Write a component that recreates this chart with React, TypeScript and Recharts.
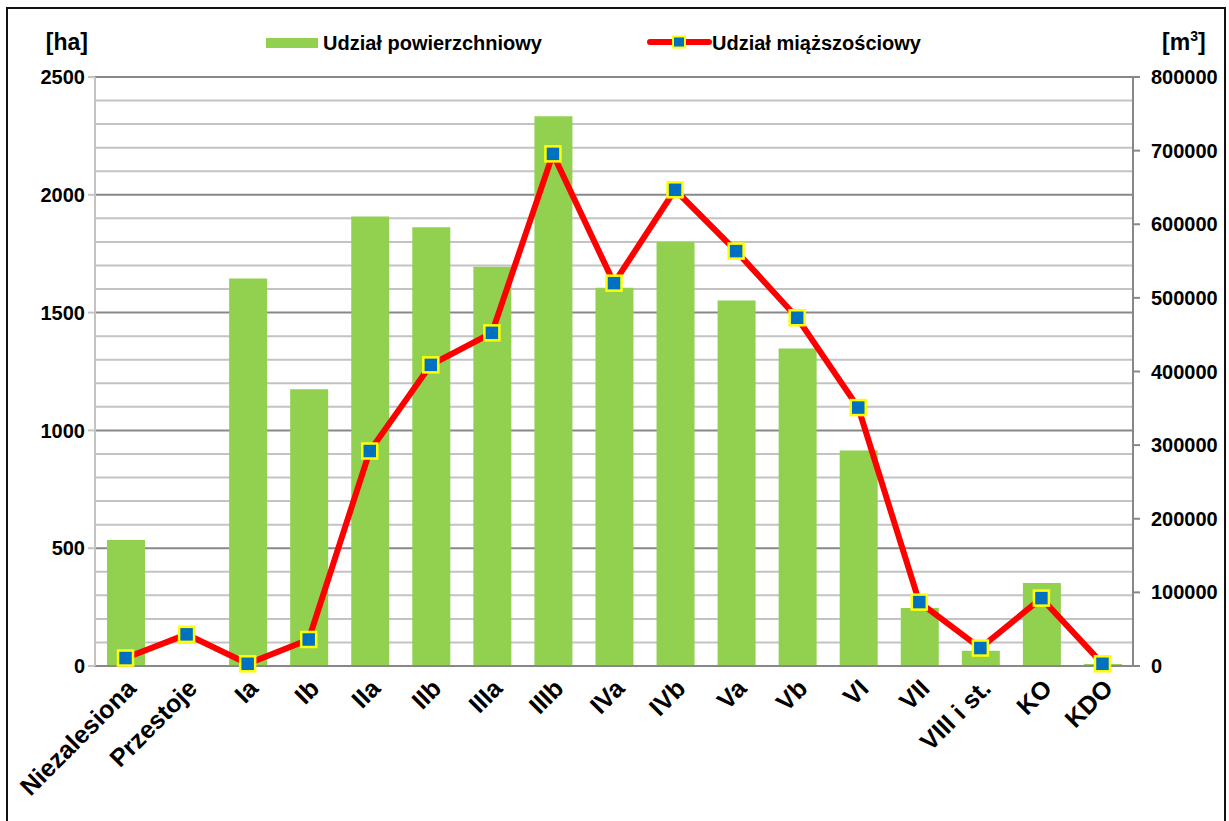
import React from "react";
import { ComposedChart, Bar, Line, XAxis, YAxis, CartesianGrid } from "recharts";

const categories = ["Niezalesiona", "Przestoje", "Ia", "Ib", "IIa", "IIb", "IIIa", "IIIb", "IVa", "IVb", "Va", "Vb", "VI", "VII", "VIII i st.", "KO", "KDO"];
const areaHa = [535, 0, 1645, 1175, 1908, 1862, 1695, 2333, 1605, 1800, 1551, 1348, 915, 246, 65, 352, 8];
const volumeM3 = [10800, 43000, 3000, 36000, 292000, 409000, 452500, 695600, 520000, 646800, 563500, 473000, 351000, 86800, 24400, 92200, 3000];
const leftTicks = [0, 500, 1000, 1500, 2000, 2500];
const rightTicks = [0, 100000, 200000, 300000, 400000, 500000, 600000, 700000, 800000];
const minorGrid = [100, 200, 300, 400, 600, 700, 800, 900, 1100, 1200, 1300, 1400, 1600, 1700, 1800, 1900, 2100, 2200, 2300, 2400];
const majorGrid = [500, 1000, 1500, 2000, 2500];

const data = categories.map((name, i) => ({ name, area: areaHa[i], volume: volumeM3[i] }));

const FONT = "'Liberation Sans', Arial, sans-serif";

const XTick = (props: any) => {
  const { x, y, payload } = props;
  return (
    <g transform={`translate(${x + 12},${y + 24})`}>
      <text transform="rotate(-45)" textAnchor="end" fontSize={25} fontWeight={700} fill="#000" fontFamily={FONT}>
        {payload.value}
      </text>
    </g>
  );
};

const SquareDot = (props: any) => {
  const { cx, cy, index } = props;
  if (cx == null || cy == null) return null;
  return <rect key={`d${index}`} x={cx - 7.5} y={cy - 7.5} width={15} height={15} fill="#0070c0" stroke="#ffff00" strokeWidth={2.5} />;
};

export default function App() {
  return (
    <div style={{ position: "relative", width: 1229, height: 821, overflow: "hidden", background: "#fff" }}>
      <style>{`body{margin:0;overflow:hidden;}`}</style>
      <ComposedChart width={1229} height={821} data={data} margin={{ top: 77, right: 0, bottom: 0, left: 0 }} barSize={38}>
        <CartesianGrid yAxisId="left" vertical={false} horizontalValues={minorGrid} stroke="#c3c3c3" strokeWidth={2} />
        <CartesianGrid yAxisId="left" vertical={false} horizontalValues={majorGrid} stroke="#888888" strokeWidth={2} />
        <XAxis dataKey="name" interval={0} height={155} tickLine={false} tickSize={0} tickMargin={0} axisLine={{ stroke: "#888888", strokeWidth: 2 }} tick={<XTick />} />
        <YAxis yAxisId="left" orientation="left" width={95} domain={[0, 2500]} ticks={leftTicks} interval={0}
          axisLine={{ stroke: "#c3c3c3", strokeWidth: 2 }} tickLine={{ stroke: "#c3c3c3", strokeWidth: 2 }} tickSize={7} tickMargin={3}
          tick={{ fontSize: 20, fontWeight: 700, fill: "#000", fontFamily: FONT }} />
        <YAxis yAxisId="right" orientation="right" width={96} domain={[0, 800000]} ticks={rightTicks} interval={0}
          axisLine={{ stroke: "#888888", strokeWidth: 2 }} tickLine={{ stroke: "#888888", strokeWidth: 2 }} tickSize={7} tickMargin={11}
          tick={{ fontSize: 20, fontWeight: 700, fill: "#000", fontFamily: FONT }} />
        <Bar yAxisId="left" dataKey="area" name="Udział powierzchniowy" fill="#92d050" isAnimationActive={false} />
        <Line yAxisId="right" dataKey="volume" name="Udział miąższościowy" stroke="#ff0000" strokeWidth={6} dot={<SquareDot />} activeDot={false} isAnimationActive={false} />
      </ComposedChart>
      <svg width={1229} height={70} style={{ position: "absolute", left: 0, top: 0, pointerEvents: "none" }}>
        <rect x={266} y={38} width={52} height={10} fill="#92d050" />
        <text x={323} y={50} fontSize={20} fontWeight={700} fontFamily={FONT} fill="#000">Udział powierzchniowy</text>
        <line x1={650} y1={42} x2={709} y2={42} stroke="#ff0000" strokeWidth={6} strokeLinecap="round" />
        <rect x={673} y={36.5} width={12} height={11} fill="#0070c0" stroke="#ffff00" strokeWidth={2} />
        <text x={712} y={50} fontSize={20} fontWeight={700} fontFamily={FONT} fill="#000">Udział miąższościowy</text>
        <text x={88} y={50} textAnchor="end" fontSize={23} fontWeight={700} fontFamily={FONT} fill="#000">[ha]</text>
        <text x={1162} y={50} fontSize={23} fontWeight={700} fontFamily={FONT} fill="#000">
          [m<tspan fontSize={14} dy={-9}>3</tspan><tspan dy={9}>]</tspan>
        </text>
      </svg>
      <div style={{ position: "absolute", left: 6, top: 7, width: 1220, height: 900, border: "2px solid #111", boxSizing: "border-box", pointerEvents: "none" }} />
    </div>
  );
}
